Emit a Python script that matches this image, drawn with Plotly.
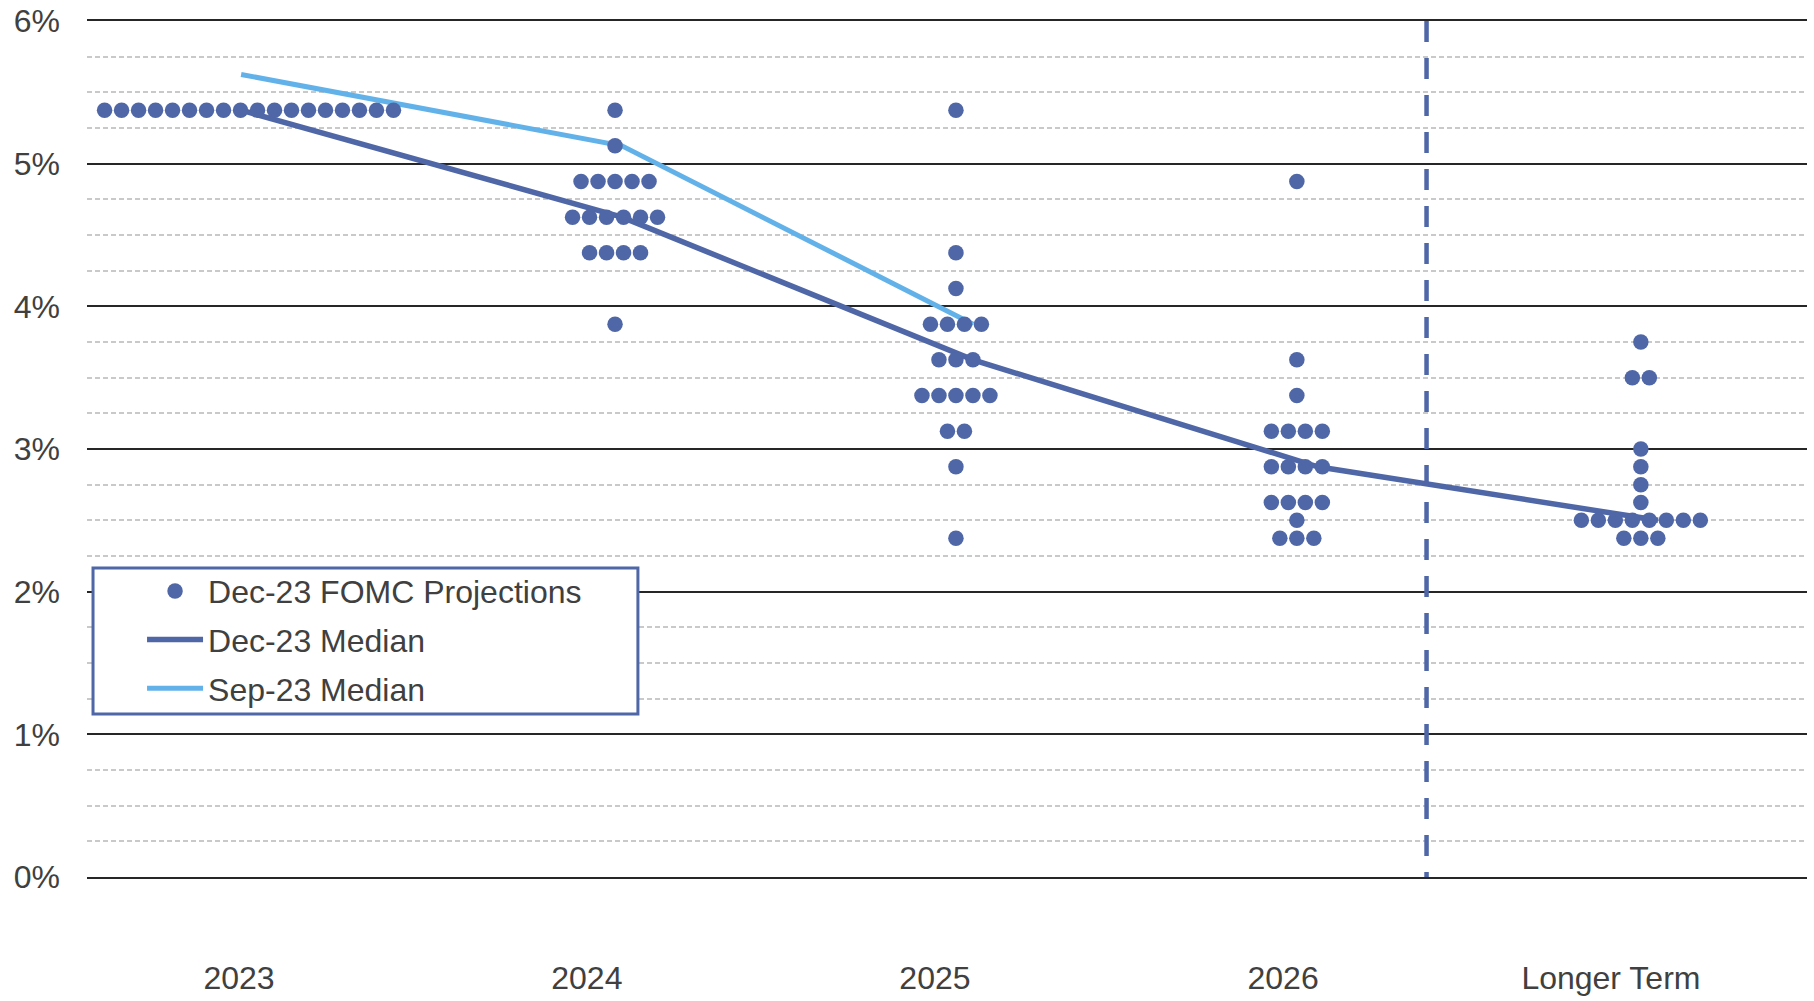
import plotly.graph_objects as go

# ---------------- data ----------------
categories = ["2023", "2024", "2025", "2026", "Longer Term"]

dec23_median = [5.375, 4.625, 3.625, 2.875, 2.5]
sep23_median = [5.625, 5.125, 3.875]

# Dec-23 FOMC projections: rate levels and number of dots at each level
proj_2023_levels = [5.375]
proj_2023_counts = [18]
proj_2024_levels = [5.375, 5.125, 4.875, 4.625, 4.375, 3.875]
proj_2024_counts = [1, 1, 5, 6, 4, 1]
proj_2025_levels = [5.375, 4.375, 4.125, 3.875, 3.625, 3.375, 3.125, 2.875, 2.375]
proj_2025_counts = [1, 1, 1, 4, 3, 5, 2, 1, 1]
proj_2026_levels = [4.875, 3.625, 3.375, 3.125, 2.875, 2.625, 2.5, 2.375]
proj_2026_counts = [1, 1, 1, 4, 4, 4, 1, 3]
proj_lt_levels = [3.75, 3.5, 3.0, 2.875, 2.75, 2.625, 2.5, 2.375]
proj_lt_counts = [1, 2, 1, 1, 1, 1, 8, 3]

y_tick_values = [0, 1, 2, 3, 4, 5, 6]
y_tick_labels = ["0%", "1%", "2%", "3%", "4%", "5%", "6%"]

# ---------------- layout constants ----------------
DOT_CENTER = [0.471, 1.535, 2.526, 3.517, 4.517]
MEDIAN_X = [0.448, 1.555, 2.576, 3.578, 4.567]
LABEL_X = [0.442, 1.453, 2.465, 3.477, 4.430]
DIVIDER_X = 3.894
DOT_STEP = 0.0494

DOT_COLOR = "#4F67A7"
SEP_COLOR = "#62B2E9"
TEXT_COLOR = "#404040"
GRID_COLOR = "#262626"
FONT = "Liberation Sans, Arial, sans-serif"
FS = 32

proj_levels = [proj_2023_levels, proj_2024_levels, proj_2025_levels, proj_2026_levels, proj_lt_levels]
proj_counts = [proj_2023_counts, proj_2024_counts, proj_2025_counts, proj_2026_counts, proj_lt_counts]

dot_x, dot_y = [], []
for ci, (levels, counts) in enumerate(zip(proj_levels, proj_counts)):
    for lvl, n in zip(levels, counts):
        for k in range(n):
            dot_x.append(DOT_CENTER[ci] + (k - (n - 1) / 2) * DOT_STEP)
            dot_y.append(lvl)

fig = go.Figure()

fig.add_trace(go.Scatter(
    x=MEDIAN_X[:len(dec23_median)], y=dec23_median, mode="lines",
    name="Dec-23 Median", line=dict(color=DOT_COLOR, width=5.5),
    legendrank=2, legendgroup="b", hoverinfo="skip"))
fig.add_trace(go.Scatter(
    x=MEDIAN_X[:len(sep23_median)], y=sep23_median, mode="lines",
    name="Sep-23 Median", line=dict(color=SEP_COLOR, width=5),
    legendrank=3, legendgroup="c", hoverinfo="skip"))
fig.add_trace(go.Scatter(
    x=dot_x, y=dot_y, mode="markers", name="Dec-23 FOMC Projections",
    marker=dict(color=DOT_COLOR, size=15.5, line=dict(width=0)),
    legendrank=1, legendgroup="a"))

# divider between 2026 and longer term
fig.add_shape(type="line", xref="x", yref="y",
              x0=DIVIDER_X, x1=DIVIDER_X, y0=6, y1=0,
              line=dict(color=DOT_COLOR, width=4.5, dash="21px,16px"))

# legend frame
fig.add_shape(type="rect", xref="paper", yref="paper",
              x0=0.0035, x1=0.3203, y0=0.1904, y1=0.361,
              line=dict(color=DOT_COLOR, width=3), fillcolor="white", layer="above")

fig.update_layout(
    width=1814, height=1001,
    margin=dict(l=87, r=7, t=21, b=124),
    paper_bgcolor="white", plot_bgcolor="white",
    font=dict(family=FONT, size=FS, color=TEXT_COLOR),
    showlegend=True,
    legend=dict(
        x=0.032, y=0.366, xanchor="left", yanchor="top",
        bgcolor="rgba(0,0,0,0)", borderwidth=0,
        font=dict(family=FONT, size=FS, color=TEXT_COLOR),
        traceorder="grouped", tracegroupgap=4,
        itemwidth=56,
    ),
    xaxis=dict(
        range=[0, 5], showgrid=False, zeroline=False,
        showline=True, mirror=True, linecolor=GRID_COLOR, linewidth=1.5,
        tickmode="array", tickvals=LABEL_X, ticktext=categories,
        ticks="", ticklabelstandoff=72, automargin=False,
        tickfont=dict(family=FONT, size=FS, color=TEXT_COLOR),
    ),
    yaxis=dict(
        range=[0, 6], tickmode="array", tickvals=y_tick_values, ticktext=y_tick_labels,
        showgrid=True, gridcolor=GRID_COLOR, gridwidth=1.5,
        zeroline=True, zerolinecolor="#404040", zerolinewidth=2.5,
        showline=False, ticks="", ticklabelstandoff=26, automargin=False,
        tickfont=dict(family=FONT, size=FS, color=TEXT_COLOR),
        minor=dict(dtick=0.25, showgrid=True, gridcolor="#C9C9C9",
                   gridwidth=1.5, griddash="5px,3px"),
    ),
)

fig.write_html("out.html", config={"displayModeBar": False},
               post_script="document.body.style.margin='0px';")
